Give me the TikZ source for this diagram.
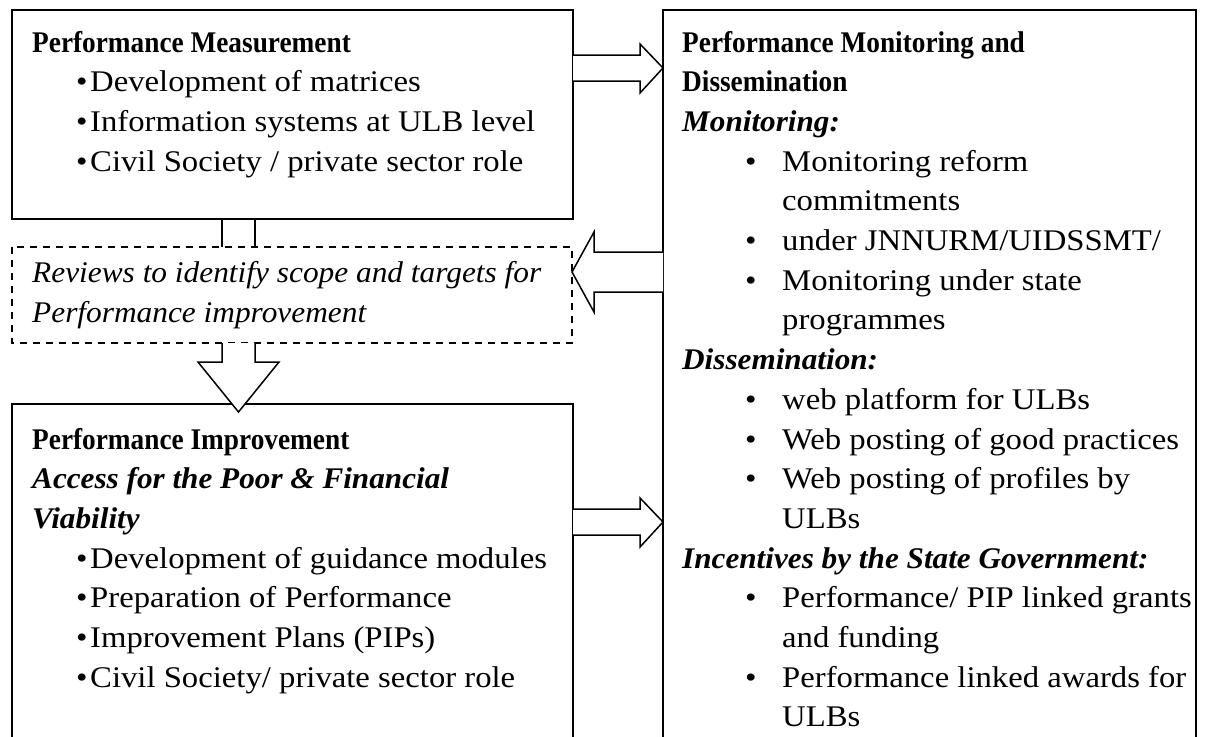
\documentclass[tikz,border=0pt]{standalone}
\usepackage{fontspec}
\setmainfont{Liberation Serif}
\newfontfamily\fReg{Liberation Serif}[FakeStretch=1.09]
\newfontfamily\fBold{Liberation Serif}[FakeStretch=0.91]
\newfontfamily\fBI{Liberation Serif}[FakeStretch=1.04]
\newfontfamily\fIt{Liberation Serif}[FakeStretch=1.045]
\newcommand\fsz{\fontsize{30}{36}\selectfont}
\begin{document}
\begin{tikzpicture}[x=1pt,y=-1pt,
  boxline/.style={line width=1.5pt},
  dashline/.style={line width=1.3pt, dash pattern=on 7pt off 6pt},
  arrowline/.style={line width=1.5pt, fill=white, line join=miter},
  txt/.style={anchor=base west, inner sep=0pt, font=\fReg\fsz},
  bf/.style={txt, font=\fBold\fsz\bfseries},
  bi/.style={txt, font=\fBI\fsz\bfseries\itshape},
  it/.style={txt, font=\fIt\fsz\itshape},
  bul/.style={anchor=base west, inner sep=0pt, font=\fReg\fsz}]
\useasboundingbox (0,0) rectangle (1207,736);
\begin{scope}
\clip (0,0) rectangle (1207,736);
% boxes
\draw[boxline] (12,10) rectangle (573,219);
\draw[dashline] (12,247) rectangle (572,343);
\draw[boxline] (12,745) -- (12,404) -- (573,404) -- (573,745);
\draw[boxline] (663,745) -- (663,10) -- (1196,10) -- (1196,745);
\coordinate (c1) at (222,219);
\coordinate (c2) at (222,247);
\coordinate (c3) at (255,219);
\coordinate (c4) at (255,247);
\draw[boxline] (c1) -- (c2);
\draw[boxline] (c3) -- (c4);
% block arrows
\draw[arrowline] (573,55) -- (640,55) -- (640,44) -- (663,68) -- (640,93) -- (640,81) -- (573,81);
\draw[arrowline] (663,252) -- (594,252) -- (594,232) -- (572,272) -- (594,312) -- (594,292) -- (663,292);
\draw[arrowline] (573,509) -- (640,509) -- (640,498) -- (663,522) -- (640,547) -- (640,535) -- (573,535);
\draw[arrowline] (222,343) -- (222,362) -- (198,362) -- (238.5,412) -- (279,362) -- (255,362) -- (255,343);
\end{scope}
% top left text
\node[bf] (a0) at (32,52) {Performance Measurement};
\node[bul] (a1b) at (76,91.7) {\textbullet};
\node[txt] (a1) at (90,91.7) {Development of matrices};
\node[bul] (a2b) at (76,131.4) {\textbullet};
\node[txt] (a2) at (90,131.4) {Information systems at ULB level};
\node[bul] (a3b) at (76,171.1) {\textbullet};
\node[txt] (a3) at (90,171.1) {Civil Society / private sector role};
% dashed box text
\node[it] (r1) at (32,282) {Reviews to identify scope and targets for};
\node[it] (r2) at (32,322) {Performance improvement};
% bottom left text
\node[bf] (b0) at (32,449) {Performance Improvement};
\node[bi] (b1) at (32,488.7) {Access for the Poor \& Financial};
\node[bi] (b2) at (32,528.4) {Viability};
\node[bul] (b3b) at (76,568.1) {\textbullet};
\node[txt] (b3) at (90,568.1) {Development of guidance modules};
\node[bul] (b4b) at (76,607.8) {\textbullet};
\node[txt] (b4) at (90,607.8) {Preparation of Performance};
\node[bul] (b5b) at (76,647.5) {\textbullet};
\node[txt] (b5) at (90,647.5) {Improvement Plans (PIPs)};
\node[bul] (b6b) at (76,687.2) {\textbullet};
\node[txt] (b6) at (90,687.2) {Civil Society/ private sector role};
% right text
\node[bf] (m0) at (682,52) {Performance Monitoring and};
\node[bf] (m1) at (682,91.7) {Dissemination};
\node[bi] (m2) at (682,131.4) {Monitoring:};
\node[bul] (m3b) at (745,171.1) {\textbullet};
\node[txt] (m3) at (782,171.1) {Monitoring reform};
\node[txt] (m4) at (782,210.8) {commitments};
\node[bul] (m5b) at (745,250.5) {\textbullet};
\node[txt] (m5) at (782,250.5) {under JNNURM/UIDSSMT/};
\node[bul] (m6b) at (745,290.2) {\textbullet};
\node[txt] (m6) at (782,290.2) {Monitoring under state};
\node[txt] (m7) at (782,329.9) {programmes};
\node[bi] (m8) at (682,369.6) {Dissemination:};
\node[bul] (m9b) at (745,409.3) {\textbullet};
\node[txt] (m9) at (782,409.3) {web platform for ULBs};
\node[bul] (m10b) at (745,449) {\textbullet};
\node[txt] (m10) at (782,449) {Web posting of good practices};
\node[bul] (m11b) at (745,488.7) {\textbullet};
\node[txt] (m11) at (782,488.7) {Web posting of profiles by};
\node[txt] (m12) at (782,528.4) {ULBs};
\node[bi] (m13) at (682,568.1) {Incentives by the State Government:};
\node[bul] (m14b) at (745,607.8) {\textbullet};
\node[txt] (m14) at (782,607.8) {Performance/ PIP linked grants};
\node[txt] (m15) at (782,647.5) {and funding};
\node[bul] (m16b) at (745,687.2) {\textbullet};
\node[txt] (m16) at (782,687.2) {Performance linked awards for};
\node[txt] (m17) at (782,726.9) {ULBs};
\end{tikzpicture}
\end{document}
